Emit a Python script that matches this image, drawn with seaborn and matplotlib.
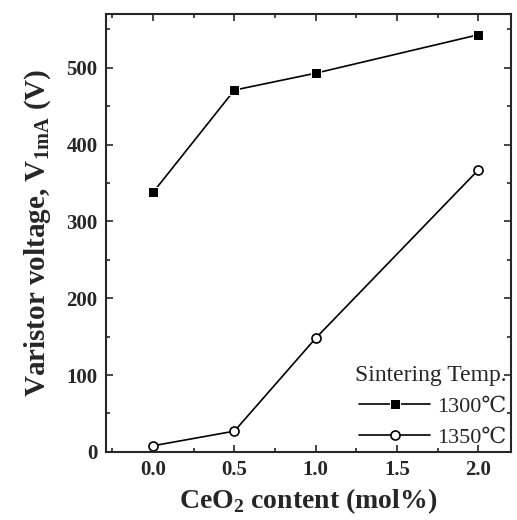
import matplotlib
matplotlib.use("Agg")
import matplotlib.pyplot as plt
import seaborn as sns
import pandas as pd
from matplotlib.ticker import MultipleLocator

ceo2 = [0.0, 0.5, 1.0, 2.0]
v_1300 = [338, 471, 493, 543]
v_1350 = [8, 27, 148, 367]
labels = ["1300\u2103", "1350\u2103"]

df = pd.DataFrame({
    "x": ceo2 * 2,
    "y": v_1300 + v_1350,
    "T": [labels[0]] * 4 + [labels[1]] * 4,
})

sns.set_style("ticks")
plt.rcParams['font.family'] = ['Liberation Serif', 'DejaVu Serif']
plt.rcParams['mathtext.fontset'] = 'custom'
plt.rcParams['mathtext.rm'] = 'Liberation Serif'
plt.rcParams['mathtext.bf'] = 'Liberation Serif:bold'

fig = plt.figure(figsize=(5.17, 5.2), dpi=100)
ax = fig.add_axes([0.205, 0.131, 0.783, 0.842])

sns.lineplot(data=df, x="x", y="y", hue="T", style="T",
             markers={labels[0]: "s", labels[1]: "o"}, dashes=False,
             palette={labels[0]: "black", labels[1]: "black"},
             ax=ax, linewidth=1.2, markersize=6.5)
for line in ax.lines:
    if line.get_marker() == "o":
        line.set_markerfacecolor("white")
        line.set_markeredgecolor("black")
        line.set_markeredgewidth(1.2)

ax.set_xlim(-0.29, 2.2)
ax.set_ylim(0, 570)
ax.xaxis.set_major_locator(MultipleLocator(0.5))
ax.xaxis.set_minor_locator(MultipleLocator(0.25))
ax.yaxis.set_major_locator(MultipleLocator(100))
ax.yaxis.set_minor_locator(MultipleLocator(50))
ax.tick_params(which="both", direction="in", top=True, right=True, width=1.2)
ax.tick_params(which="major", length=5, labelsize=15, pad=6)
ax.tick_params(which="minor", length=3)
ax.set_xticklabels([f"{v:.1f}" for v in ax.get_xticks()])
for s in ax.spines.values():
    s.set_linewidth(1.5)
    s.set_visible(True)
for t in ax.get_xticklabels() + ax.get_yticklabels():
    t.set_fontweight("bold")

ax.set_xlabel("CeO$_\\mathbf{2}$ content (mol%)", fontsize=20, fontweight="bold", labelpad=4)
ax.set_ylabel("Varistor voltage, V$_{\\mathbf{1mA}}$ (V)", fontsize=21, fontweight="bold", labelpad=10)

leg = ax.legend(title="Sintering Temp.", frameon=False, loc="lower right",
                fontsize=16, title_fontsize=17, handlelength=3.2, borderaxespad=0.0,
                handletextpad=0.3, labelspacing=0.45, borderpad=0.2)
leg._legend_box.align = "right"

fig.savefig("out.png", dpi=100)
